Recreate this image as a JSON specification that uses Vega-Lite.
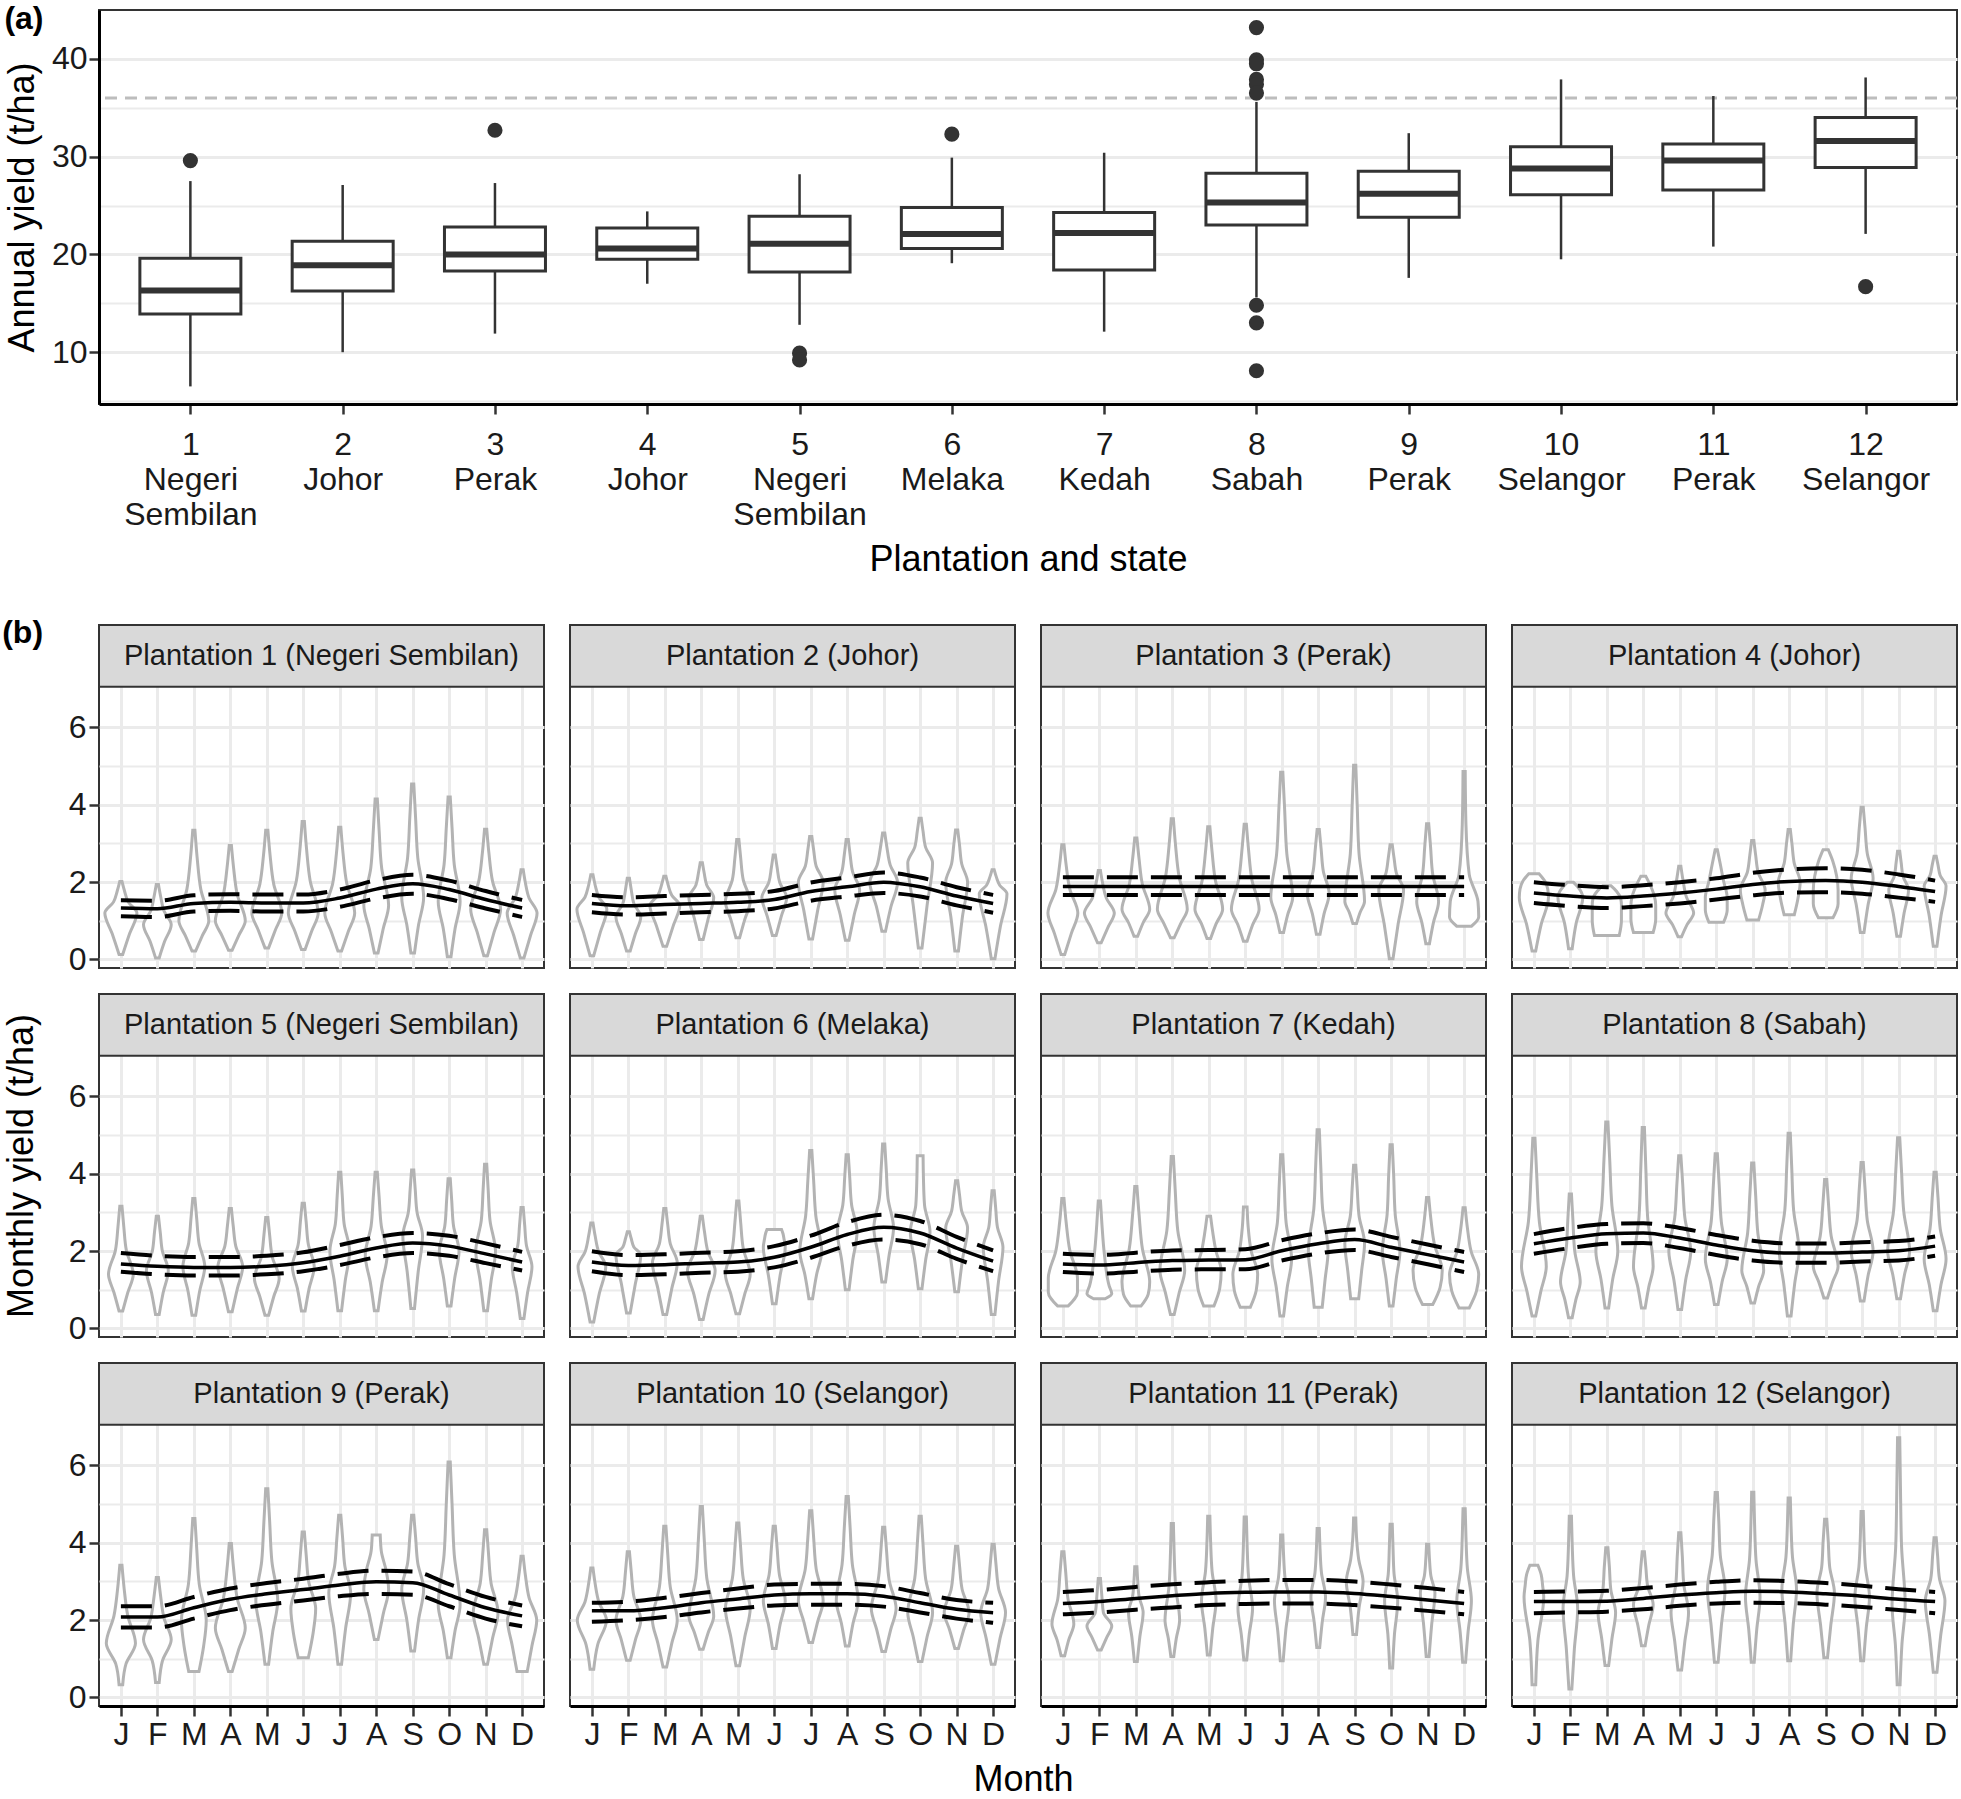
{
"$schema": "https://vega.github.io/schema/vega-lite/v6.json",
"padding": {"left": 2, "top": 2, "right": 2, "bottom": 0},
"config": {
 "font": "Liberation Sans",
 "view": {"stroke": "#333333", "strokeWidth": 2},
 "axis": {"labelFontSize": 32, "titleFontSize": 36, "titleFontWeight": "normal", "labelColor": "#1a1a1a", "titleColor": "#000000", "tickColor": "#333333", "tickWidth": 2.5, "tickSize": 10, "gridColor": "#ebebeb", "domainColor": "#000000", "domainWidth": 3, "labelPadding": 3, "titlePadding": 8},
 "title": {"fontSize": 32, "fontWeight": "bold", "color": "#000000"}
},
"datasets": {
 "box": [
  {"lab":"1|Negeri|Sembilan","lw":6.5,"q1":13.9,"med":16.3,"q3":19.6,"uw":27.5},
  {"lab":"2|Johor","lw":10.0,"q1":16.25,"med":18.9,"q3":21.35,"uw":27.1},
  {"lab":"3|Perak","lw":11.9,"q1":18.3,"med":20.0,"q3":22.8,"uw":27.3},
  {"lab":"4|Johor","lw":17.0,"q1":19.5,"med":20.6,"q3":22.7,"uw":24.4},
  {"lab":"5|Negeri|Sembilan","lw":12.8,"q1":18.2,"med":21.1,"q3":23.9,"uw":28.2},
  {"lab":"6|Melaka","lw":19.1,"q1":20.6,"med":22.1,"q3":24.8,"uw":29.9},
  {"lab":"7|Kedah","lw":12.1,"q1":18.4,"med":22.2,"q3":24.3,"uw":30.4},
  {"lab":"8|Sabah","lw":15.6,"q1":23.0,"med":25.3,"q3":28.3,"uw":35.6},
  {"lab":"9|Perak","lw":17.6,"q1":23.8,"med":26.2,"q3":28.5,"uw":32.4},
  {"lab":"10|Selangor","lw":19.5,"q1":26.1,"med":28.8,"q3":31.0,"uw":37.9},
  {"lab":"11|Perak","lw":20.8,"q1":26.6,"med":29.6,"q3":31.3,"uw":36.2},
  {"lab":"12|Selangor","lw":22.1,"q1":28.9,"med":31.6,"q3":34.0,"uw":38.1}
 ],
 "out": [
  {"lab":"1|Negeri|Sembilan","y":29.6},
  {"lab":"3|Perak","y":32.7},
  {"lab":"5|Negeri|Sembilan","y":9.9},
  {"lab":"5|Negeri|Sembilan","y":9.2},
  {"lab":"6|Melaka","y":32.3},
  {"lab":"8|Sabah","y":43.2},
  {"lab":"8|Sabah","y":39.9},
  {"lab":"8|Sabah","y":39.5},
  {"lab":"8|Sabah","y":37.9},
  {"lab":"8|Sabah","y":37.4},
  {"lab":"8|Sabah","y":36.5},
  {"lab":"8|Sabah","y":14.8},
  {"lab":"8|Sabah","y":13.0},
  {"lab":"8|Sabah","y":8.1},
  {"lab":"12|Selangor","y":16.7}
 ],
 "mon": [
  {"p":1,"m":1,"mn":1.33,"lo":1.12,"hi":1.53,"ys":[0.13,0.67,1.2,1.49,1.77,2.02],"ws":[0.05,0.24,0.44,0.2,0.1,0.03],"t":"Plantation 1 (Negeri Sembilan)"},
  {"p":1,"m":2,"mn":1.31,"lo":1.1,"hi":1.52,"ys":[0.04,0.47,0.9,1.26,1.63,1.94],"ws":[0.05,0.2,0.38,0.18,0.09,0.03]},
  {"p":1,"m":3,"mn":1.45,"lo":1.24,"hi":1.66,"ys":[0.22,0.61,1.0,1.82,2.64,3.34],"ws":[0.05,0.23,0.41,0.19,0.09,0.03]},
  {"p":1,"m":4,"mn":1.48,"lo":1.26,"hi":1.69,"ys":[0.24,0.62,1.0,1.68,2.37,2.95],"ws":[0.05,0.23,0.41,0.19,0.09,0.03]},
  {"p":1,"m":5,"mn":1.46,"lo":1.24,"hi":1.68,"ys":[0.3,0.75,1.2,1.95,2.7,3.34],"ws":[0.05,0.23,0.41,0.19,0.09,0.03]},
  {"p":1,"m":6,"mn":1.46,"lo":1.24,"hi":1.68,"ys":[0.26,0.73,1.2,2.03,2.86,3.57],"ws":[0.05,0.23,0.41,0.19,0.09,0.03]},
  {"p":1,"m":7,"mn":1.59,"lo":1.36,"hi":1.81,"ys":[0.22,0.71,1.2,1.98,2.75,3.42],"ws":[0.05,0.23,0.41,0.19,0.09,0.03]},
  {"p":1,"m":8,"mn":1.82,"lo":1.58,"hi":2.05,"ys":[0.17,0.79,1.4,2.36,3.33,4.15],"ws":[0.05,0.19,0.34,0.15,0.08,0.03]},
  {"p":1,"m":9,"mn":1.96,"lo":1.7,"hi":2.19,"ys":[0.17,0.89,1.6,2.63,3.66,4.54],"ws":[0.05,0.16,0.3,0.14,0.08,0.03]},
  {"p":1,"m":10,"mn":1.81,"lo":1.56,"hi":2.04,"ys":[0.07,0.79,1.5,2.45,3.39,4.2],"ws":[0.05,0.16,0.3,0.14,0.08,0.03]},
  {"p":1,"m":11,"mn":1.55,"lo":1.32,"hi":1.77,"ys":[0.1,0.7,1.3,2.02,2.75,3.37],"ws":[0.05,0.23,0.41,0.19,0.09,0.03]},
  {"p":1,"m":12,"mn":1.33,"lo":1.1,"hi":1.54,"ys":[0.04,0.62,1.2,1.59,1.98,2.32],"ws":[0.05,0.23,0.41,0.19,0.09,0.03]},

  {"p":2,"m":1,"mn":1.45,"lo":1.22,"hi":1.67,"ys":[0.1,0.7,1.3,1.61,1.92,2.19],"ws":[0.05,0.23,0.41,0.19,0.09,0.03],"t":"Plantation 2 (Johor)"},
  {"p":2,"m":2,"mn":1.39,"lo":1.16,"hi":1.61,"ys":[0.22,0.66,1.1,1.45,1.8,2.1],"ws":[0.05,0.19,0.34,0.15,0.08,0.03]},
  {"p":2,"m":3,"mn":1.42,"lo":1.19,"hi":1.64,"ys":[0.34,0.87,1.4,1.66,1.93,2.15],"ws":[0.05,0.23,0.41,0.19,0.09,0.03]},
  {"p":2,"m":4,"mn":1.45,"lo":1.22,"hi":1.67,"ys":[0.52,1.06,1.6,1.92,2.23,2.5],"ws":[0.05,0.19,0.34,0.15,0.08,0.03]},
  {"p":2,"m":5,"mn":1.48,"lo":1.25,"hi":1.7,"ys":[0.56,1.03,1.5,2.06,2.62,3.1],"ws":[0.05,0.19,0.34,0.15,0.08,0.03]},
  {"p":2,"m":6,"mn":1.55,"lo":1.32,"hi":1.77,"ys":[0.62,1.11,1.6,1.99,2.37,2.7],"ws":[0.05,0.19,0.34,0.15,0.08,0.03]},
  {"p":2,"m":7,"mn":1.76,"lo":1.52,"hi":1.99,"ys":[0.53,1.27,2.0,2.41,2.83,3.18],"ws":[0.05,0.19,0.34,0.15,0.08,0.03]},
  {"p":2,"m":8,"mn":1.88,"lo":1.63,"hi":2.12,"ys":[0.5,1.15,1.8,2.26,2.71,3.1],"ws":[0.05,0.19,0.34,0.15,0.08,0.03]},
  {"p":2,"m":9,"mn":2.0,"lo":1.72,"hi":2.25,"ys":[0.73,1.37,2.0,2.44,2.89,3.27],"ws":[0.05,0.2,0.38,0.18,0.09,0.03]},
  {"p":2,"m":10,"mn":1.88,"lo":1.63,"hi":2.12,"ys":[0.3,1.4,2.5,2.9,3.31,3.65],"ws":[0.05,0.19,0.34,0.15,0.08,0.03]},
  {"p":2,"m":11,"mn":1.64,"lo":1.4,"hi":1.87,"ys":[0.22,1.11,2.0,2.47,2.95,3.35],"ws":[0.05,0.16,0.3,0.14,0.08,0.03]},
  {"p":2,"m":12,"mn":1.45,"lo":1.21,"hi":1.67,"ys":[0.02,0.86,1.7,1.92,2.13,2.32],"ws":[0.05,0.2,0.38,0.18,0.09,0.03]},

  {"p":3,"m":1,"mn":1.89,"lo":1.67,"hi":2.13,"ys":[0.13,0.67,1.2,1.82,2.44,2.97],"ws":[0.05,0.23,0.41,0.19,0.09,0.03],"t":"Plantation 3 (Perak)"},
  {"p":3,"m":2,"mn":1.89,"lo":1.67,"hi":2.13,"ys":[0.43,0.82,1.2,1.59,1.97,2.3],"ws":[0.05,0.23,0.41,0.19,0.09,0.03]},
  {"p":3,"m":3,"mn":1.89,"lo":1.67,"hi":2.13,"ys":[0.6,0.95,1.3,1.94,2.59,3.14],"ws":[0.05,0.2,0.38,0.18,0.09,0.03]},
  {"p":3,"m":4,"mn":1.89,"lo":1.67,"hi":2.13,"ys":[0.56,0.93,1.3,2.12,2.94,3.64],"ws":[0.05,0.23,0.41,0.19,0.09,0.03]},
  {"p":3,"m":5,"mn":1.89,"lo":1.67,"hi":2.13,"ys":[0.54,0.92,1.3,2.05,2.79,3.43],"ws":[0.05,0.2,0.38,0.18,0.09,0.03]},
  {"p":3,"m":6,"mn":1.89,"lo":1.67,"hi":2.13,"ys":[0.47,0.89,1.3,2.07,2.84,3.5],"ws":[0.05,0.2,0.38,0.18,0.09,0.03]},
  {"p":3,"m":7,"mn":1.89,"lo":1.67,"hi":2.13,"ys":[0.7,1.15,1.6,2.73,3.87,4.84],"ws":[0.05,0.16,0.3,0.14,0.08,0.03]},
  {"p":3,"m":8,"mn":1.89,"lo":1.67,"hi":2.13,"ys":[0.65,1.18,1.7,2.28,2.86,3.36],"ws":[0.05,0.16,0.3,0.14,0.08,0.03]},
  {"p":3,"m":9,"mn":1.89,"lo":1.67,"hi":2.13,"ys":[0.93,1.22,1.5,2.73,3.96,5.02],"ws":[0.05,0.15,0.27,0.12,0.07,0.03]},
  {"p":3,"m":10,"mn":1.89,"lo":1.67,"hi":2.13,"ys":[0.02,0.91,1.8,2.21,2.62,2.97],"ws":[0.05,0.19,0.34,0.15,0.08,0.03]},
  {"p":3,"m":11,"mn":1.89,"lo":1.67,"hi":2.13,"ys":[0.41,0.96,1.5,2.2,2.91,3.51],"ws":[0.05,0.16,0.3,0.14,0.08,0.03]},
  {"p":3,"m":12,"mn":1.89,"lo":1.67,"hi":2.13,"ys":[0.86,1.1,1.5,2.2,3.5,4.86],"ws":[0.2,0.4,0.38,0.14,0.05,0.03]},

  {"p":4,"m":1,"mn":1.72,"lo":1.46,"hi":2.0,"ys":[0.22,0.91,1.6,1.82,2.03,2.22],"ws":[0.05,0.2,0.4,0.38,0.3,0.14],"t":"Plantation 4 (Johor)"},
  {"p":4,"m":2,"mn":1.64,"lo":1.38,"hi":1.92,"ys":[0.28,0.94,1.6,1.74,1.88,2.0],"ws":[0.05,0.16,0.34,0.3,0.2,0.08]},
  {"p":4,"m":3,"mn":1.59,"lo":1.33,"hi":1.87,"ys":[0.62,1.01,1.4,1.58,1.76,1.91],"ws":[0.34,0.4,0.4,0.38,0.27,0.11]},
  {"p":4,"m":4,"mn":1.64,"lo":1.38,"hi":1.92,"ys":[0.7,1.05,1.4,1.65,1.9,2.15],"ws":[0.27,0.34,0.34,0.3,0.2,0.07]},
  {"p":4,"m":5,"mn":1.72,"lo":1.45,"hi":2.0,"ys":[0.59,0.9,1.2,1.62,2.04,2.41],"ws":[0.05,0.2,0.38,0.18,0.09,0.03]},
  {"p":4,"m":6,"mn":1.82,"lo":1.55,"hi":2.1,"ys":[0.96,1.28,1.6,2.03,2.47,2.84],"ws":[0.2,0.3,0.3,0.2,0.11,0.03]},
  {"p":4,"m":7,"mn":1.94,"lo":1.66,"hi":2.24,"ys":[1.02,1.41,1.8,2.25,2.7,3.08],"ws":[0.16,0.27,0.34,0.15,0.08,0.03]},
  {"p":4,"m":8,"mn":2.02,"lo":1.73,"hi":2.33,"ys":[1.16,1.58,2.0,2.48,2.95,3.36],"ws":[0.14,0.24,0.3,0.14,0.08,0.03]},
  {"p":4,"m":9,"mn":2.04,"lo":1.74,"hi":2.36,"ys":[1.08,1.44,1.8,2.16,2.53,2.84],"ws":[0.2,0.34,0.34,0.3,0.2,0.07]},
  {"p":4,"m":10,"mn":2.0,"lo":1.7,"hi":2.32,"ys":[0.7,1.4,2.1,2.74,3.39,3.94],"ws":[0.05,0.16,0.3,0.14,0.08,0.03]},
  {"p":4,"m":11,"mn":1.89,"lo":1.6,"hi":2.2,"ys":[0.6,1.2,1.8,2.15,2.5,2.8],"ws":[0.05,0.15,0.27,0.12,0.07,0.03]},
  {"p":4,"m":12,"mn":1.76,"lo":1.49,"hi":2.04,"ys":[0.34,1.12,1.9,2.17,2.44,2.67],"ws":[0.05,0.16,0.3,0.14,0.08,0.03]},

  {"p":5,"m":1,"mn":1.67,"lo":1.47,"hi":1.95,"ys":[0.45,0.93,1.4,2.02,2.63,3.16],"ws":[0.05,0.19,0.34,0.15,0.08,0.03],"t":"Plantation 5 (Negeri Sembilan)"},
  {"p":5,"m":2,"mn":1.61,"lo":1.4,"hi":1.88,"ys":[0.36,0.93,1.5,1.99,2.48,2.9],"ws":[0.05,0.16,0.3,0.14,0.08,0.03]},
  {"p":5,"m":3,"mn":1.58,"lo":1.37,"hi":1.85,"ys":[0.34,0.97,1.6,2.22,2.83,3.36],"ws":[0.05,0.16,0.3,0.14,0.08,0.03]},
  {"p":5,"m":4,"mn":1.58,"lo":1.37,"hi":1.85,"ys":[0.43,1.02,1.6,2.13,2.65,3.1],"ws":[0.05,0.19,0.34,0.15,0.08,0.03]},
  {"p":5,"m":5,"mn":1.61,"lo":1.4,"hi":1.88,"ys":[0.34,0.82,1.3,1.85,2.4,2.87],"ws":[0.05,0.19,0.34,0.15,0.08,0.03]},
  {"p":5,"m":6,"mn":1.7,"lo":1.48,"hi":1.97,"ys":[0.45,1.03,1.6,2.17,2.75,3.24],"ws":[0.05,0.16,0.3,0.14,0.08,0.03]},
  {"p":5,"m":7,"mn":1.87,"lo":1.64,"hi":2.16,"ys":[0.46,1.23,2.0,2.71,3.43,4.04],"ws":[0.05,0.15,0.27,0.12,0.07,0.03]},
  {"p":5,"m":8,"mn":2.08,"lo":1.84,"hi":2.36,"ys":[0.46,1.18,1.9,2.65,3.4,4.04],"ws":[0.05,0.16,0.3,0.14,0.08,0.03]},
  {"p":5,"m":9,"mn":2.21,"lo":1.95,"hi":2.47,"ys":[0.52,1.46,2.4,3.0,3.59,4.1],"ws":[0.05,0.15,0.27,0.12,0.07,0.03]},
  {"p":5,"m":10,"mn":2.13,"lo":1.88,"hi":2.4,"ys":[0.58,1.29,2.0,2.65,3.31,3.87],"ws":[0.05,0.15,0.27,0.12,0.07,0.03]},
  {"p":5,"m":11,"mn":1.93,"lo":1.69,"hi":2.2,"ys":[0.46,1.23,2.0,2.79,3.58,4.25],"ws":[0.05,0.15,0.27,0.12,0.07,0.03]},
  {"p":5,"m":12,"mn":1.72,"lo":1.5,"hi":1.98,"ys":[0.26,0.93,1.6,2.14,2.67,3.13],"ws":[0.05,0.15,0.27,0.12,0.07,0.03]},

  {"p":6,"m":1,"mn":1.72,"lo":1.48,"hi":2.0,"ys":[0.17,0.89,1.6,2.0,2.39,2.73],"ws":[0.05,0.2,0.38,0.18,0.09,0.03],"t":"Plantation 6 (Melaka)"},
  {"p":6,"m":2,"mn":1.63,"lo":1.38,"hi":1.9,"ys":[0.4,1.15,1.9,2.11,2.32,2.5],"ws":[0.05,0.19,0.34,0.15,0.08,0.03]},
  {"p":6,"m":3,"mn":1.65,"lo":1.4,"hi":1.92,"ys":[0.36,1.03,1.7,2.19,2.68,3.1],"ws":[0.05,0.19,0.34,0.15,0.08,0.03]},
  {"p":6,"m":4,"mn":1.69,"lo":1.44,"hi":1.96,"ys":[0.23,0.87,1.5,1.99,2.48,2.9],"ws":[0.05,0.2,0.38,0.18,0.09,0.03]},
  {"p":6,"m":5,"mn":1.72,"lo":1.47,"hi":2.0,"ys":[0.38,0.89,1.4,2.07,2.73,3.3],"ws":[0.05,0.19,0.34,0.15,0.08,0.03]},
  {"p":6,"m":6,"mn":1.84,"lo":1.58,"hi":2.13,"ys":[0.64,1.37,2.1,2.3,2.45,2.56],"ws":[0.05,0.16,0.3,0.27,0.24,0.2]},
  {"p":6,"m":7,"mn":2.1,"lo":1.83,"hi":2.4,"ys":[0.77,1.39,2.0,2.91,3.82,4.6],"ws":[0.05,0.16,0.3,0.14,0.08,0.03]},
  {"p":6,"m":8,"mn":2.43,"lo":2.14,"hi":2.75,"ys":[1.0,1.75,2.5,3.2,3.89,4.49],"ws":[0.05,0.15,0.27,0.12,0.07,0.03]},
  {"p":6,"m":9,"mn":2.62,"lo":2.3,"hi":2.94,"ys":[1.2,1.9,2.6,3.36,4.12,4.77],"ws":[0.05,0.15,0.27,0.12,0.07,0.03]},
  {"p":6,"m":10,"mn":2.47,"lo":2.18,"hi":2.78,"ys":[1.03,1.77,2.5,3.19,3.88,4.47],"ws":[0.05,0.15,0.27,0.12,0.09,0.08]},
  {"p":6,"m":11,"mn":2.08,"lo":1.8,"hi":2.37,"ys":[0.95,1.78,2.6,3.03,3.45,3.82],"ws":[0.05,0.16,0.3,0.14,0.08,0.03]},
  {"p":6,"m":12,"mn":1.74,"lo":1.48,"hi":2.02,"ys":[0.36,1.23,2.1,2.61,3.12,3.56],"ws":[0.05,0.15,0.27,0.12,0.07,0.03]},

  {"p":7,"m":1,"mn":1.67,"lo":1.46,"hi":1.93,"ys":[0.58,0.94,1.3,2.02,2.74,3.36],"ws":[0.14,0.4,0.4,0.19,0.09,0.03],"t":"Plantation 7 (Kedah)"},
  {"p":7,"m":2,"mn":1.64,"lo":1.42,"hi":1.9,"ys":[0.77,0.9,1.1,1.9,2.7,3.3],"ws":[0.16,0.34,0.27,0.14,0.07,0.03]},
  {"p":7,"m":3,"mn":1.7,"lo":1.47,"hi":1.96,"ys":[0.58,0.89,1.2,2.06,2.93,3.67],"ws":[0.14,0.34,0.38,0.18,0.09,0.03]},
  {"p":7,"m":4,"mn":1.76,"lo":1.52,"hi":2.02,"ys":[0.36,0.93,1.5,2.53,3.57,4.45],"ws":[0.05,0.19,0.34,0.15,0.08,0.03]},
  {"p":7,"m":5,"mn":1.77,"lo":1.53,"hi":2.03,"ys":[0.58,1.04,1.5,1.99,2.48,2.9],"ws":[0.14,0.3,0.34,0.2,0.11,0.05]},
  {"p":7,"m":6,"mn":1.78,"lo":1.53,"hi":2.05,"ys":[0.55,0.98,1.4,2.01,2.62,3.14],"ws":[0.14,0.3,0.34,0.16,0.08,0.05]},
  {"p":7,"m":7,"mn":2.01,"lo":1.76,"hi":2.28,"ys":[0.32,1.06,1.8,2.74,3.68,4.49],"ws":[0.05,0.15,0.27,0.12,0.07,0.03]},
  {"p":7,"m":8,"mn":2.19,"lo":1.94,"hi":2.46,"ys":[0.55,1.28,2.0,3.1,4.2,5.14],"ws":[0.11,0.19,0.27,0.12,0.07,0.03]},
  {"p":7,"m":9,"mn":2.3,"lo":2.03,"hi":2.56,"ys":[0.77,1.49,2.2,2.91,3.61,4.22],"ws":[0.11,0.19,0.27,0.12,0.07,0.03]},
  {"p":7,"m":10,"mn":2.1,"lo":1.85,"hi":2.37,"ys":[0.58,1.29,2.0,2.96,3.93,4.75],"ws":[0.05,0.14,0.24,0.11,0.07,0.03]},
  {"p":7,"m":11,"mn":1.91,"lo":1.66,"hi":2.17,"ys":[0.62,1.06,1.5,2.16,2.82,3.39],"ws":[0.14,0.34,0.4,0.19,0.09,0.03]},
  {"p":7,"m":12,"mn":1.72,"lo":1.46,"hi":1.98,"ys":[0.53,0.97,1.4,2.0,2.6,3.12],"ws":[0.14,0.34,0.4,0.19,0.09,0.03]},

  {"p":8,"m":1,"mn":2.19,"lo":1.93,"hi":2.44,"ys":[0.32,0.96,1.6,2.76,3.92,4.92],"ws":[0.05,0.19,0.34,0.15,0.08,0.03],"t":"Plantation 8 (Sabah)"},
  {"p":8,"m":2,"mn":2.34,"lo":2.08,"hi":2.6,"ys":[0.28,0.74,1.2,2.0,2.8,3.48],"ws":[0.05,0.15,0.27,0.12,0.07,0.03]},
  {"p":8,"m":3,"mn":2.45,"lo":2.19,"hi":2.7,"ys":[0.53,1.27,2.0,3.17,4.34,5.34],"ws":[0.05,0.16,0.3,0.14,0.08,0.03]},
  {"p":8,"m":4,"mn":2.47,"lo":2.21,"hi":2.72,"ys":[0.53,1.07,1.6,2.86,4.12,5.2],"ws":[0.05,0.15,0.27,0.12,0.07,0.03]},
  {"p":8,"m":5,"mn":2.34,"lo":2.08,"hi":2.6,"ys":[0.49,1.25,2.0,2.86,3.73,4.47],"ws":[0.05,0.16,0.3,0.14,0.08,0.03]},
  {"p":8,"m":6,"mn":2.16,"lo":1.9,"hi":2.42,"ys":[0.62,1.21,1.8,2.75,3.7,4.52],"ws":[0.05,0.16,0.3,0.14,0.08,0.03]},
  {"p":8,"m":7,"mn":2.01,"lo":1.76,"hi":2.27,"ys":[0.66,1.08,1.5,2.47,3.45,4.28],"ws":[0.05,0.16,0.3,0.14,0.08,0.03]},
  {"p":8,"m":8,"mn":1.95,"lo":1.7,"hi":2.2,"ys":[0.32,1.16,2.0,3.07,4.14,5.05],"ws":[0.05,0.15,0.27,0.12,0.07,0.03]},
  {"p":8,"m":9,"mn":1.95,"lo":1.7,"hi":2.2,"ys":[0.79,1.2,1.6,2.39,3.18,3.85],"ws":[0.05,0.19,0.34,0.15,0.08,0.03]},
  {"p":8,"m":10,"mn":1.98,"lo":1.73,"hi":2.23,"ys":[0.71,1.36,2.0,2.8,3.6,4.29],"ws":[0.05,0.16,0.3,0.14,0.08,0.03]},
  {"p":8,"m":11,"mn":2.01,"lo":1.76,"hi":2.26,"ys":[0.77,1.39,2.0,3.03,4.05,4.93],"ws":[0.05,0.16,0.3,0.14,0.08,0.03]},
  {"p":8,"m":12,"mn":2.13,"lo":1.88,"hi":2.38,"ys":[0.46,1.13,1.8,2.58,3.37,4.04],"ws":[0.05,0.16,0.3,0.14,0.08,0.03]},

  {"p":9,"m":1,"mn":2.08,"lo":1.81,"hi":2.36,"ys":[0.33,0.87,1.4,2.11,2.81,3.42],"ws":[0.05,0.14,0.4,0.19,0.09,0.03],"t":"Plantation 9 (Perak)"},
  {"p":9,"m":2,"mn":2.08,"lo":1.81,"hi":2.36,"ys":[0.39,0.95,1.5,2.06,2.62,3.1],"ws":[0.05,0.14,0.38,0.18,0.09,0.03]},
  {"p":9,"m":3,"mn":2.32,"lo":2.04,"hi":2.6,"ys":[0.67,1.34,2.0,2.92,3.84,4.63],"ws":[0.14,0.27,0.34,0.15,0.08,0.03]},
  {"p":9,"m":4,"mn":2.54,"lo":2.26,"hi":2.82,"ys":[0.67,1.24,1.8,2.56,3.33,3.98],"ws":[0.05,0.23,0.41,0.19,0.09,0.03]},
  {"p":9,"m":5,"mn":2.68,"lo":2.4,"hi":2.96,"ys":[0.86,1.68,2.5,3.52,4.53,5.4],"ws":[0.05,0.16,0.3,0.14,0.08,0.03]},
  {"p":9,"m":6,"mn":2.79,"lo":2.51,"hi":3.07,"ys":[1.03,1.67,2.3,2.99,3.69,4.28],"ws":[0.14,0.27,0.34,0.15,0.08,0.03]},
  {"p":9,"m":7,"mn":2.91,"lo":2.62,"hi":3.2,"ys":[0.86,1.78,2.7,3.4,4.11,4.71],"ws":[0.05,0.16,0.3,0.14,0.08,0.03]},
  {"p":9,"m":8,"mn":2.99,"lo":2.68,"hi":3.28,"ys":[1.5,2.15,2.8,3.29,3.78,4.2],"ws":[0.05,0.19,0.34,0.27,0.14,0.11]},
  {"p":9,"m":9,"mn":2.97,"lo":2.66,"hi":3.26,"ys":[1.2,2.0,2.8,3.47,4.14,4.71],"ws":[0.05,0.16,0.3,0.14,0.08,0.03]},
  {"p":9,"m":10,"mn":2.65,"lo":2.36,"hi":2.93,"ys":[1.03,1.72,2.4,3.69,4.98,6.09],"ws":[0.05,0.16,0.3,0.14,0.08,0.03]},
  {"p":9,"m":11,"mn":2.32,"lo":2.04,"hi":2.6,"ys":[0.86,1.53,2.2,2.95,3.7,4.34],"ws":[0.05,0.19,0.34,0.15,0.08,0.03]},
  {"p":9,"m":12,"mn":2.11,"lo":1.84,"hi":2.38,"ys":[0.67,1.34,2.0,2.58,3.16,3.65],"ws":[0.14,0.27,0.4,0.19,0.09,0.03]},

  {"p":10,"m":1,"mn":2.24,"lo":1.96,"hi":2.45,"ys":[0.73,1.37,2.0,2.47,2.94,3.35],"ws":[0.05,0.16,0.4,0.19,0.09,0.03],"t":"Plantation 10 (Selangor)"},
  {"p":10,"m":2,"mn":2.24,"lo":2.0,"hi":2.48,"ys":[0.96,1.48,2.0,2.62,3.24,3.77],"ws":[0.05,0.19,0.34,0.15,0.08,0.03]},
  {"p":10,"m":3,"mn":2.32,"lo":2.08,"hi":2.58,"ys":[0.79,1.4,2.0,2.85,3.7,4.43],"ws":[0.05,0.19,0.34,0.15,0.08,0.03]},
  {"p":10,"m":4,"mn":2.45,"lo":2.2,"hi":2.7,"ys":[1.25,1.68,2.1,3.09,4.09,4.94],"ws":[0.05,0.19,0.34,0.15,0.08,0.03]},
  {"p":10,"m":5,"mn":2.55,"lo":2.3,"hi":2.82,"ys":[0.82,1.56,2.3,3.07,3.85,4.51],"ws":[0.05,0.19,0.34,0.15,0.08,0.03]},
  {"p":10,"m":6,"mn":2.65,"lo":2.38,"hi":2.92,"ys":[1.27,1.89,2.5,3.18,3.85,4.43],"ws":[0.05,0.16,0.3,0.14,0.08,0.03]},
  {"p":10,"m":7,"mn":2.68,"lo":2.4,"hi":2.94,"ys":[1.42,1.96,2.5,3.32,4.13,4.83],"ws":[0.05,0.19,0.34,0.15,0.08,0.03]},
  {"p":10,"m":8,"mn":2.68,"lo":2.4,"hi":2.94,"ys":[1.33,1.92,2.5,3.45,4.39,5.2],"ws":[0.05,0.16,0.3,0.14,0.08,0.03]},
  {"p":10,"m":9,"mn":2.62,"lo":2.35,"hi":2.88,"ys":[1.19,1.75,2.3,3.04,3.77,4.4],"ws":[0.05,0.19,0.34,0.15,0.08,0.03]},
  {"p":10,"m":10,"mn":2.45,"lo":2.2,"hi":2.7,"ys":[0.93,1.57,2.2,3.07,3.94,4.69],"ws":[0.05,0.19,0.34,0.15,0.08,0.03]},
  {"p":10,"m":11,"mn":2.28,"lo":2.04,"hi":2.52,"ys":[1.27,1.74,2.2,2.8,3.4,3.91],"ws":[0.05,0.19,0.34,0.15,0.08,0.03]},
  {"p":10,"m":12,"mn":2.19,"lo":1.93,"hi":2.45,"ys":[0.86,1.53,2.2,2.82,3.43,3.96],"ws":[0.05,0.19,0.34,0.15,0.08,0.03]},

  {"p":11,"m":1,"mn":2.43,"lo":2.15,"hi":2.73,"ys":[1.08,1.49,1.9,2.55,3.21,3.77],"ws":[0.05,0.16,0.3,0.14,0.08,0.03],"t":"Plantation 11 (Perak)"},
  {"p":11,"m":2,"mn":2.48,"lo":2.2,"hi":2.78,"ys":[1.23,1.55,1.85,2.2,2.6,3.08],"ws":[0.05,0.2,0.34,0.11,0.07,0.03]},
  {"p":11,"m":3,"mn":2.56,"lo":2.27,"hi":2.86,"ys":[0.93,1.57,2.2,2.61,3.03,3.38],"ws":[0.04,0.11,0.2,0.09,0.05,0.03]},
  {"p":11,"m":4,"mn":2.63,"lo":2.33,"hi":2.93,"ys":[1.06,1.53,2.0,2.88,3.75,4.5],"ws":[0.04,0.11,0.2,0.09,0.05,0.03]},
  {"p":11,"m":5,"mn":2.69,"lo":2.39,"hi":2.98,"ys":[1.1,1.8,2.5,3.27,4.03,4.69],"ws":[0.04,0.11,0.2,0.09,0.05,0.03]},
  {"p":11,"m":6,"mn":2.72,"lo":2.42,"hi":3.02,"ys":[0.97,1.64,2.3,3.13,3.96,4.67],"ws":[0.04,0.11,0.2,0.09,0.05,0.03]},
  {"p":11,"m":7,"mn":2.73,"lo":2.43,"hi":3.04,"ys":[0.95,1.73,2.5,3.1,3.69,4.2],"ws":[0.04,0.11,0.2,0.09,0.05,0.03]},
  {"p":11,"m":8,"mn":2.73,"lo":2.43,"hi":3.04,"ys":[1.29,1.95,2.6,3.22,3.84,4.37],"ws":[0.04,0.11,0.2,0.09,0.05,0.03]},
  {"p":11,"m":9,"mn":2.69,"lo":2.39,"hi":3.0,"ys":[1.63,2.32,3.0,3.57,4.15,4.64],"ws":[0.05,0.12,0.23,0.11,0.05,0.03]},
  {"p":11,"m":10,"mn":2.61,"lo":2.32,"hi":2.92,"ys":[0.76,1.63,2.5,3.19,3.89,4.48],"ws":[0.04,0.09,0.18,0.08,0.05,0.03]},
  {"p":11,"m":11,"mn":2.52,"lo":2.24,"hi":2.83,"ys":[1.06,1.88,2.7,3.14,3.58,3.96],"ws":[0.04,0.11,0.2,0.09,0.05,0.03]},
  {"p":11,"m":12,"mn":2.43,"lo":2.15,"hi":2.73,"ys":[0.91,1.71,2.5,3.33,4.17,4.88],"ws":[0.04,0.11,0.2,0.09,0.05,0.03]},

  {"p":12,"m":1,"mn":2.48,"lo":2.18,"hi":2.73,"ys":[0.33,1.47,2.6,2.89,3.18,3.42],"ws":[0.05,0.11,0.27,0.24,0.2,0.11],"t":"Plantation 12 (Selangor)"},
  {"p":12,"m":2,"mn":2.48,"lo":2.2,"hi":2.74,"ys":[0.22,1.26,2.3,3.14,3.97,4.69],"ws":[0.04,0.11,0.2,0.09,0.05,0.03]},
  {"p":12,"m":3,"mn":2.49,"lo":2.22,"hi":2.76,"ys":[0.83,1.52,2.2,2.78,3.37,3.87],"ws":[0.05,0.14,0.24,0.11,0.07,0.03]},
  {"p":12,"m":4,"mn":2.56,"lo":2.28,"hi":2.83,"ys":[1.34,1.87,2.4,2.88,3.36,3.77],"ws":[0.05,0.15,0.27,0.12,0.07,0.03]},
  {"p":12,"m":5,"mn":2.65,"lo":2.37,"hi":2.92,"ys":[0.71,1.46,2.2,2.92,3.64,4.26],"ws":[0.05,0.14,0.24,0.11,0.07,0.03]},
  {"p":12,"m":6,"mn":2.71,"lo":2.43,"hi":2.99,"ys":[0.91,1.86,2.8,3.68,4.55,5.3],"ws":[0.05,0.14,0.24,0.11,0.07,0.03]},
  {"p":12,"m":7,"mn":2.75,"lo":2.45,"hi":3.03,"ys":[0.91,1.76,2.6,3.55,4.5,5.31],"ws":[0.04,0.11,0.2,0.09,0.05,0.03]},
  {"p":12,"m":8,"mn":2.73,"lo":2.44,"hi":3.01,"ys":[0.95,1.88,2.8,3.63,4.45,5.16],"ws":[0.04,0.11,0.2,0.09,0.05,0.03]},
  {"p":12,"m":9,"mn":2.68,"lo":2.4,"hi":2.96,"ys":[1.03,1.87,2.7,3.37,4.04,4.61],"ws":[0.05,0.14,0.24,0.11,0.07,0.03]},
  {"p":12,"m":10,"mn":2.62,"lo":2.34,"hi":2.89,"ys":[0.95,1.78,2.6,3.37,4.15,4.81],"ws":[0.04,0.11,0.2,0.09,0.05,0.03]},
  {"p":12,"m":11,"mn":2.54,"lo":2.26,"hi":2.8,"ys":[0.33,1.37,2.4,3.91,5.42,6.72],"ws":[0.04,0.09,0.18,0.08,0.05,0.03]},
  {"p":12,"m":12,"mn":2.48,"lo":2.18,"hi":2.73,"ys":[0.65,1.58,2.5,3.07,3.64,4.13],"ws":[0.05,0.15,0.27,0.12,0.07,0.03]}
 ]
},
"spacing": 39,
"vconcat": [
 {
  "title": {"text": "(a)", "anchor": "start", "frame": "bounds", "baseline": "top", "offset": 10, "dy": 36},
  "width": 1858, "height": 394,
  "layer": [
   {"data": {"values": [{"ref": 36}]}, "mark": {"type": "rule", "color": "#bdbdbd", "strokeWidth": 3, "strokeDash": [12, 8]}, "encoding": {"y": {"field": "ref", "type": "quantitative"}}},
   {"data": {"name": "box"}, "mark": {"type": "rule", "color": "#333333", "strokeWidth": 2.5},
    "encoding": {
     "x": {"field": "lab", "type": "nominal", "scale": {"type": "point", "padding": 0.6, "domain": ["1|Negeri|Sembilan","2|Johor","3|Perak","4|Johor","5|Negeri|Sembilan","6|Melaka","7|Kedah","8|Sabah","9|Perak","10|Selangor","11|Perak","12|Selangor"]},
      "axis": {"labelExpr": "split(datum.value, '|')", "labelAngle": 0, "labelLineHeight": 35, "labelBaseline": "top", "labelPadding": 15, "titlePadding": 12, "title": "Plantation and state", "grid": false}},
     "y": {"field": "lw", "type": "quantitative", "scale": {"domain": [4.7, 45], "nice": false, "zero": false},
      "axis": {"values": [5,10,15,20,25,30,35,40], "labelExpr": "datum.value % 10 == 0 ? datum.label : ''", "tickOpacity": {"condition": {"test": "datum.value % 10 != 0", "value": 0}, "value": 1}, "gridWidth": {"condition": {"test": "datum.value % 10 != 0", "value": 2.2}, "value": 3}, "grid": true, "title": "Annual yield (t/ha)", "titlePadding": 10, "labelPadding": 2}},
     "y2": {"field": "uw"}}},
   {"data": {"name": "box"}, "mark": {"type": "bar", "width": 101, "fill": "#ffffff", "stroke": "#333333", "strokeWidth": 3}, "encoding": {"x": {"field": "lab", "type": "nominal"}, "y": {"field": "q1", "type": "quantitative"}, "y2": {"field": "q3"}}},
   {"data": {"name": "box"}, "mark": {"type": "tick", "color": "#333333", "thickness": 6, "size": 101, "opacity": 1}, "encoding": {"x": {"field": "lab", "type": "nominal"}, "y": {"field": "med", "type": "quantitative"}}},
   {"data": {"name": "out"}, "mark": {"type": "circle", "size": 230, "color": "#333333", "opacity": 1}, "encoding": {"x": {"field": "lab", "type": "nominal"}, "y": {"field": "y", "type": "quantitative"}}}
  ]
 },
 {
  "title": {"text": "(b)", "anchor": "start", "frame": "bounds", "baseline": "top", "offset": 13, "dy": 40},
  "columns": 4, "spacing": 26, "bounds": "flush",
  "concat": [
   {"width":445,"height":343,"data":{"name":"mon"},"transform":[{"filter":"datum.p == 1"}],"layer":[
    {"transform":[{"flatten":["ys","ws"],"as":["y","w"]},{"calculate":"datum.m - datum.w","as":"xl"},{"calculate":"datum.m + datum.w","as":"xr"}],"mark":{"type":"area","orient":"horizontal","interpolate":"monotone","fill":"#ffffff","stroke":"#b3b3b3","strokeWidth":3},"encoding":{"x":{"field":"xl","type":"quantitative","stack":null,"scale":{"domain":[0.4,12.6],"nice":false,"zero":false},"axis":{"values":[1,2,3,4,5,6,7,8,9,10,11,12],"labels":false,"ticks":false,"domain":false,"gridWidth":3,"title":null}},"x2":{"field":"xr"},"y":{"field":"y","type":"quantitative","scale":{"domain":[-0.22,8.65],"nice":false,"zero":false},"axis":{"values":[0,1,2,3,4,5,6],"labelExpr":"datum.value % 2 == 0 ? datum.label : ''","tickOpacity":{"condition":{"test":"datum.value % 2 == 1","value":0},"value":1},"gridWidth":{"condition":{"test":"datum.value % 2 == 1","value":2.2},"value":3},"domain":false,"title":null}},"detail":{"field":"m","type":"nominal"}}},
    {"mark":{"type":"line","interpolate":"monotone","color":"#000000","strokeWidth":3.5},"encoding":{"x":{"field":"m","type":"quantitative"},"y":{"field":"mn","type":"quantitative"}}},
    {"transform":[{"fold":["lo","hi"],"as":["k","v"]}],"mark":{"type":"line","interpolate":"monotone","color":"#000000","strokeWidth":4,"strokeDash":[31,13]},"encoding":{"x":{"field":"m","type":"quantitative"},"y":{"field":"v","type":"quantitative"},"detail":{"field":"k","type":"nominal"}}},
    {"transform":[{"filter":"datum.m == 1"}],"mark":{"type":"rect","fill":"#d9d9d9","stroke":"#333333","strokeWidth":2},"encoding":{"x":{"datum":0.4,"type":"quantitative"},"x2":{"datum":12.6},"y":{"datum":7.05,"type":"quantitative"},"y2":{"datum":8.65}}},
    {"transform":[{"filter":"datum.m == 1"}],"mark":{"type":"text","fontSize":29,"color":"#1a1a1a"},"encoding":{"text":{"field":"t","type":"nominal"},"x":{"datum":6.5,"type":"quantitative"},"y":{"datum":7.85,"type":"quantitative"}}}
   ]},
   {"width":445,"height":343,"data":{"name":"mon"},"transform":[{"filter":"datum.p == 2"}],"layer":[
    {"transform":[{"flatten":["ys","ws"],"as":["y","w"]},{"calculate":"datum.m - datum.w","as":"xl"},{"calculate":"datum.m + datum.w","as":"xr"}],"mark":{"type":"area","orient":"horizontal","interpolate":"monotone","fill":"#ffffff","stroke":"#b3b3b3","strokeWidth":3},"encoding":{"x":{"field":"xl","type":"quantitative","stack":null,"scale":{"domain":[0.4,12.6],"nice":false,"zero":false},"axis":{"values":[1,2,3,4,5,6,7,8,9,10,11,12],"labels":false,"ticks":false,"domain":false,"gridWidth":3,"title":null}},"x2":{"field":"xr"},"y":{"field":"y","type":"quantitative","scale":{"domain":[-0.22,8.65],"nice":false,"zero":false},"axis":{"values":[0,1,2,3,4,5,6],"labels":false,"ticks":false,"gridWidth":{"condition":{"test":"datum.value % 2 == 1","value":2.2},"value":3},"domain":false,"title":null}},"detail":{"field":"m","type":"nominal"}}},
    {"mark":{"type":"line","interpolate":"monotone","color":"#000000","strokeWidth":3.5},"encoding":{"x":{"field":"m","type":"quantitative"},"y":{"field":"mn","type":"quantitative"}}},
    {"transform":[{"fold":["lo","hi"],"as":["k","v"]}],"mark":{"type":"line","interpolate":"monotone","color":"#000000","strokeWidth":4,"strokeDash":[31,13]},"encoding":{"x":{"field":"m","type":"quantitative"},"y":{"field":"v","type":"quantitative"},"detail":{"field":"k","type":"nominal"}}},
    {"transform":[{"filter":"datum.m == 1"}],"mark":{"type":"rect","fill":"#d9d9d9","stroke":"#333333","strokeWidth":2},"encoding":{"x":{"datum":0.4,"type":"quantitative"},"x2":{"datum":12.6},"y":{"datum":7.05,"type":"quantitative"},"y2":{"datum":8.65}}},
    {"transform":[{"filter":"datum.m == 1"}],"mark":{"type":"text","fontSize":29,"color":"#1a1a1a"},"encoding":{"text":{"field":"t","type":"nominal"},"x":{"datum":6.5,"type":"quantitative"},"y":{"datum":7.85,"type":"quantitative"}}}
   ]},
   {"width":445,"height":343,"data":{"name":"mon"},"transform":[{"filter":"datum.p == 3"}],"layer":[
    {"transform":[{"flatten":["ys","ws"],"as":["y","w"]},{"calculate":"datum.m - datum.w","as":"xl"},{"calculate":"datum.m + datum.w","as":"xr"}],"mark":{"type":"area","orient":"horizontal","interpolate":"monotone","fill":"#ffffff","stroke":"#b3b3b3","strokeWidth":3},"encoding":{"x":{"field":"xl","type":"quantitative","stack":null,"scale":{"domain":[0.4,12.6],"nice":false,"zero":false},"axis":{"values":[1,2,3,4,5,6,7,8,9,10,11,12],"labels":false,"ticks":false,"domain":false,"gridWidth":3,"title":null}},"x2":{"field":"xr"},"y":{"field":"y","type":"quantitative","scale":{"domain":[-0.22,8.65],"nice":false,"zero":false},"axis":{"values":[0,1,2,3,4,5,6],"labels":false,"ticks":false,"gridWidth":{"condition":{"test":"datum.value % 2 == 1","value":2.2},"value":3},"domain":false,"title":null}},"detail":{"field":"m","type":"nominal"}}},
    {"mark":{"type":"line","interpolate":"monotone","color":"#000000","strokeWidth":3.5},"encoding":{"x":{"field":"m","type":"quantitative"},"y":{"field":"mn","type":"quantitative"}}},
    {"transform":[{"fold":["lo","hi"],"as":["k","v"]}],"mark":{"type":"line","interpolate":"monotone","color":"#000000","strokeWidth":4,"strokeDash":[31,13]},"encoding":{"x":{"field":"m","type":"quantitative"},"y":{"field":"v","type":"quantitative"},"detail":{"field":"k","type":"nominal"}}},
    {"transform":[{"filter":"datum.m == 1"}],"mark":{"type":"rect","fill":"#d9d9d9","stroke":"#333333","strokeWidth":2},"encoding":{"x":{"datum":0.4,"type":"quantitative"},"x2":{"datum":12.6},"y":{"datum":7.05,"type":"quantitative"},"y2":{"datum":8.65}}},
    {"transform":[{"filter":"datum.m == 1"}],"mark":{"type":"text","fontSize":29,"color":"#1a1a1a"},"encoding":{"text":{"field":"t","type":"nominal"},"x":{"datum":6.5,"type":"quantitative"},"y":{"datum":7.85,"type":"quantitative"}}}
   ]},
   {"width":445,"height":343,"data":{"name":"mon"},"transform":[{"filter":"datum.p == 4"}],"layer":[
    {"transform":[{"flatten":["ys","ws"],"as":["y","w"]},{"calculate":"datum.m - datum.w","as":"xl"},{"calculate":"datum.m + datum.w","as":"xr"}],"mark":{"type":"area","orient":"horizontal","interpolate":"monotone","fill":"#ffffff","stroke":"#b3b3b3","strokeWidth":3},"encoding":{"x":{"field":"xl","type":"quantitative","stack":null,"scale":{"domain":[0.4,12.6],"nice":false,"zero":false},"axis":{"values":[1,2,3,4,5,6,7,8,9,10,11,12],"labels":false,"ticks":false,"domain":false,"gridWidth":3,"title":null}},"x2":{"field":"xr"},"y":{"field":"y","type":"quantitative","scale":{"domain":[-0.22,8.65],"nice":false,"zero":false},"axis":{"values":[0,1,2,3,4,5,6],"labels":false,"ticks":false,"gridWidth":{"condition":{"test":"datum.value % 2 == 1","value":2.2},"value":3},"domain":false,"title":null}},"detail":{"field":"m","type":"nominal"}}},
    {"mark":{"type":"line","interpolate":"monotone","color":"#000000","strokeWidth":3.5},"encoding":{"x":{"field":"m","type":"quantitative"},"y":{"field":"mn","type":"quantitative"}}},
    {"transform":[{"fold":["lo","hi"],"as":["k","v"]}],"mark":{"type":"line","interpolate":"monotone","color":"#000000","strokeWidth":4,"strokeDash":[31,13]},"encoding":{"x":{"field":"m","type":"quantitative"},"y":{"field":"v","type":"quantitative"},"detail":{"field":"k","type":"nominal"}}},
    {"transform":[{"filter":"datum.m == 1"}],"mark":{"type":"rect","fill":"#d9d9d9","stroke":"#333333","strokeWidth":2},"encoding":{"x":{"datum":0.4,"type":"quantitative"},"x2":{"datum":12.6},"y":{"datum":7.05,"type":"quantitative"},"y2":{"datum":8.65}}},
    {"transform":[{"filter":"datum.m == 1"}],"mark":{"type":"text","fontSize":29,"color":"#1a1a1a"},"encoding":{"text":{"field":"t","type":"nominal"},"x":{"datum":6.5,"type":"quantitative"},"y":{"datum":7.85,"type":"quantitative"}}}
   ]},
   {"width":445,"height":343,"data":{"name":"mon"},"transform":[{"filter":"datum.p == 5"}],"layer":[
    {"transform":[{"flatten":["ys","ws"],"as":["y","w"]},{"calculate":"datum.m - datum.w","as":"xl"},{"calculate":"datum.m + datum.w","as":"xr"}],"mark":{"type":"area","orient":"horizontal","interpolate":"monotone","fill":"#ffffff","stroke":"#b3b3b3","strokeWidth":3},"encoding":{"x":{"field":"xl","type":"quantitative","stack":null,"scale":{"domain":[0.4,12.6],"nice":false,"zero":false},"axis":{"values":[1,2,3,4,5,6,7,8,9,10,11,12],"labels":false,"ticks":false,"domain":false,"gridWidth":3,"title":null}},"x2":{"field":"xr"},"y":{"field":"y","type":"quantitative","scale":{"domain":[-0.22,8.65],"nice":false,"zero":false},"axis":{"values":[0,1,2,3,4,5,6],"labelExpr":"datum.value % 2 == 0 ? datum.label : ''","tickOpacity":{"condition":{"test":"datum.value % 2 == 1","value":0},"value":1},"gridWidth":{"condition":{"test":"datum.value % 2 == 1","value":2.2},"value":3},"domain":false,"title":"Monthly yield (t/ha)","titlePadding":28}},"detail":{"field":"m","type":"nominal"}}},
    {"mark":{"type":"line","interpolate":"monotone","color":"#000000","strokeWidth":3.5},"encoding":{"x":{"field":"m","type":"quantitative"},"y":{"field":"mn","type":"quantitative"}}},
    {"transform":[{"fold":["lo","hi"],"as":["k","v"]}],"mark":{"type":"line","interpolate":"monotone","color":"#000000","strokeWidth":4,"strokeDash":[31,13]},"encoding":{"x":{"field":"m","type":"quantitative"},"y":{"field":"v","type":"quantitative"},"detail":{"field":"k","type":"nominal"}}},
    {"transform":[{"filter":"datum.m == 1"}],"mark":{"type":"rect","fill":"#d9d9d9","stroke":"#333333","strokeWidth":2},"encoding":{"x":{"datum":0.4,"type":"quantitative"},"x2":{"datum":12.6},"y":{"datum":7.05,"type":"quantitative"},"y2":{"datum":8.65}}},
    {"transform":[{"filter":"datum.m == 1"}],"mark":{"type":"text","fontSize":29,"color":"#1a1a1a"},"encoding":{"text":{"field":"t","type":"nominal"},"x":{"datum":6.5,"type":"quantitative"},"y":{"datum":7.85,"type":"quantitative"}}}
   ]},
   {"width":445,"height":343,"data":{"name":"mon"},"transform":[{"filter":"datum.p == 6"}],"layer":[
    {"transform":[{"flatten":["ys","ws"],"as":["y","w"]},{"calculate":"datum.m - datum.w","as":"xl"},{"calculate":"datum.m + datum.w","as":"xr"}],"mark":{"type":"area","orient":"horizontal","interpolate":"monotone","fill":"#ffffff","stroke":"#b3b3b3","strokeWidth":3},"encoding":{"x":{"field":"xl","type":"quantitative","stack":null,"scale":{"domain":[0.4,12.6],"nice":false,"zero":false},"axis":{"values":[1,2,3,4,5,6,7,8,9,10,11,12],"labels":false,"ticks":false,"domain":false,"gridWidth":3,"title":null}},"x2":{"field":"xr"},"y":{"field":"y","type":"quantitative","scale":{"domain":[-0.22,8.65],"nice":false,"zero":false},"axis":{"values":[0,1,2,3,4,5,6],"labels":false,"ticks":false,"gridWidth":{"condition":{"test":"datum.value % 2 == 1","value":2.2},"value":3},"domain":false,"title":null}},"detail":{"field":"m","type":"nominal"}}},
    {"mark":{"type":"line","interpolate":"monotone","color":"#000000","strokeWidth":3.5},"encoding":{"x":{"field":"m","type":"quantitative"},"y":{"field":"mn","type":"quantitative"}}},
    {"transform":[{"fold":["lo","hi"],"as":["k","v"]}],"mark":{"type":"line","interpolate":"monotone","color":"#000000","strokeWidth":4,"strokeDash":[31,13]},"encoding":{"x":{"field":"m","type":"quantitative"},"y":{"field":"v","type":"quantitative"},"detail":{"field":"k","type":"nominal"}}},
    {"transform":[{"filter":"datum.m == 1"}],"mark":{"type":"rect","fill":"#d9d9d9","stroke":"#333333","strokeWidth":2},"encoding":{"x":{"datum":0.4,"type":"quantitative"},"x2":{"datum":12.6},"y":{"datum":7.05,"type":"quantitative"},"y2":{"datum":8.65}}},
    {"transform":[{"filter":"datum.m == 1"}],"mark":{"type":"text","fontSize":29,"color":"#1a1a1a"},"encoding":{"text":{"field":"t","type":"nominal"},"x":{"datum":6.5,"type":"quantitative"},"y":{"datum":7.85,"type":"quantitative"}}}
   ]},
   {"width":445,"height":343,"data":{"name":"mon"},"transform":[{"filter":"datum.p == 7"}],"layer":[
    {"transform":[{"flatten":["ys","ws"],"as":["y","w"]},{"calculate":"datum.m - datum.w","as":"xl"},{"calculate":"datum.m + datum.w","as":"xr"}],"mark":{"type":"area","orient":"horizontal","interpolate":"monotone","fill":"#ffffff","stroke":"#b3b3b3","strokeWidth":3},"encoding":{"x":{"field":"xl","type":"quantitative","stack":null,"scale":{"domain":[0.4,12.6],"nice":false,"zero":false},"axis":{"values":[1,2,3,4,5,6,7,8,9,10,11,12],"labels":false,"ticks":false,"domain":false,"gridWidth":3,"title":null}},"x2":{"field":"xr"},"y":{"field":"y","type":"quantitative","scale":{"domain":[-0.22,8.65],"nice":false,"zero":false},"axis":{"values":[0,1,2,3,4,5,6],"labels":false,"ticks":false,"gridWidth":{"condition":{"test":"datum.value % 2 == 1","value":2.2},"value":3},"domain":false,"title":null}},"detail":{"field":"m","type":"nominal"}}},
    {"mark":{"type":"line","interpolate":"monotone","color":"#000000","strokeWidth":3.5},"encoding":{"x":{"field":"m","type":"quantitative"},"y":{"field":"mn","type":"quantitative"}}},
    {"transform":[{"fold":["lo","hi"],"as":["k","v"]}],"mark":{"type":"line","interpolate":"monotone","color":"#000000","strokeWidth":4,"strokeDash":[31,13]},"encoding":{"x":{"field":"m","type":"quantitative"},"y":{"field":"v","type":"quantitative"},"detail":{"field":"k","type":"nominal"}}},
    {"transform":[{"filter":"datum.m == 1"}],"mark":{"type":"rect","fill":"#d9d9d9","stroke":"#333333","strokeWidth":2},"encoding":{"x":{"datum":0.4,"type":"quantitative"},"x2":{"datum":12.6},"y":{"datum":7.05,"type":"quantitative"},"y2":{"datum":8.65}}},
    {"transform":[{"filter":"datum.m == 1"}],"mark":{"type":"text","fontSize":29,"color":"#1a1a1a"},"encoding":{"text":{"field":"t","type":"nominal"},"x":{"datum":6.5,"type":"quantitative"},"y":{"datum":7.85,"type":"quantitative"}}}
   ]},
   {"width":445,"height":343,"data":{"name":"mon"},"transform":[{"filter":"datum.p == 8"}],"layer":[
    {"transform":[{"flatten":["ys","ws"],"as":["y","w"]},{"calculate":"datum.m - datum.w","as":"xl"},{"calculate":"datum.m + datum.w","as":"xr"}],"mark":{"type":"area","orient":"horizontal","interpolate":"monotone","fill":"#ffffff","stroke":"#b3b3b3","strokeWidth":3},"encoding":{"x":{"field":"xl","type":"quantitative","stack":null,"scale":{"domain":[0.4,12.6],"nice":false,"zero":false},"axis":{"values":[1,2,3,4,5,6,7,8,9,10,11,12],"labels":false,"ticks":false,"domain":false,"gridWidth":3,"title":null}},"x2":{"field":"xr"},"y":{"field":"y","type":"quantitative","scale":{"domain":[-0.22,8.65],"nice":false,"zero":false},"axis":{"values":[0,1,2,3,4,5,6],"labels":false,"ticks":false,"gridWidth":{"condition":{"test":"datum.value % 2 == 1","value":2.2},"value":3},"domain":false,"title":null}},"detail":{"field":"m","type":"nominal"}}},
    {"mark":{"type":"line","interpolate":"monotone","color":"#000000","strokeWidth":3.5},"encoding":{"x":{"field":"m","type":"quantitative"},"y":{"field":"mn","type":"quantitative"}}},
    {"transform":[{"fold":["lo","hi"],"as":["k","v"]}],"mark":{"type":"line","interpolate":"monotone","color":"#000000","strokeWidth":4,"strokeDash":[31,13]},"encoding":{"x":{"field":"m","type":"quantitative"},"y":{"field":"v","type":"quantitative"},"detail":{"field":"k","type":"nominal"}}},
    {"transform":[{"filter":"datum.m == 1"}],"mark":{"type":"rect","fill":"#d9d9d9","stroke":"#333333","strokeWidth":2},"encoding":{"x":{"datum":0.4,"type":"quantitative"},"x2":{"datum":12.6},"y":{"datum":7.05,"type":"quantitative"},"y2":{"datum":8.65}}},
    {"transform":[{"filter":"datum.m == 1"}],"mark":{"type":"text","fontSize":29,"color":"#1a1a1a"},"encoding":{"text":{"field":"t","type":"nominal"},"x":{"datum":6.5,"type":"quantitative"},"y":{"datum":7.85,"type":"quantitative"}}}
   ]},
   {"width":445,"height":343,"data":{"name":"mon"},"transform":[{"filter":"datum.p == 9"}],"layer":[
    {"transform":[{"flatten":["ys","ws"],"as":["y","w"]},{"calculate":"datum.m - datum.w","as":"xl"},{"calculate":"datum.m + datum.w","as":"xr"}],"mark":{"type":"area","orient":"horizontal","interpolate":"monotone","fill":"#ffffff","stroke":"#b3b3b3","strokeWidth":3},"encoding":{"x":{"field":"xl","type":"quantitative","stack":null,"scale":{"domain":[0.4,12.6],"nice":false,"zero":false},"axis":{"values":[1,2,3,4,5,6,7,8,9,10,11,12],"labelExpr":"['J','F','M','A','M','J','J','A','S','O','N','D'][datum.value - 1]","gridWidth":3,"title":null}},"x2":{"field":"xr"},"y":{"field":"y","type":"quantitative","scale":{"domain":[-0.22,8.65],"nice":false,"zero":false},"axis":{"values":[0,1,2,3,4,5,6],"labelExpr":"datum.value % 2 == 0 ? datum.label : ''","tickOpacity":{"condition":{"test":"datum.value % 2 == 1","value":0},"value":1},"gridWidth":{"condition":{"test":"datum.value % 2 == 1","value":2.2},"value":3},"domain":false,"title":null}},"detail":{"field":"m","type":"nominal"}}},
    {"mark":{"type":"line","interpolate":"monotone","color":"#000000","strokeWidth":3.5},"encoding":{"x":{"field":"m","type":"quantitative"},"y":{"field":"mn","type":"quantitative"}}},
    {"transform":[{"fold":["lo","hi"],"as":["k","v"]}],"mark":{"type":"line","interpolate":"monotone","color":"#000000","strokeWidth":4,"strokeDash":[31,13]},"encoding":{"x":{"field":"m","type":"quantitative"},"y":{"field":"v","type":"quantitative"},"detail":{"field":"k","type":"nominal"}}},
    {"transform":[{"filter":"datum.m == 1"}],"mark":{"type":"rect","fill":"#d9d9d9","stroke":"#333333","strokeWidth":2},"encoding":{"x":{"datum":0.4,"type":"quantitative"},"x2":{"datum":12.6},"y":{"datum":7.05,"type":"quantitative"},"y2":{"datum":8.65}}},
    {"transform":[{"filter":"datum.m == 1"}],"mark":{"type":"text","fontSize":29,"color":"#1a1a1a"},"encoding":{"text":{"field":"t","type":"nominal"},"x":{"datum":6.5,"type":"quantitative"},"y":{"datum":7.85,"type":"quantitative"}}}
   ]},
   {"width":445,"height":343,"data":{"name":"mon"},"transform":[{"filter":"datum.p == 10"}],"layer":[
    {"transform":[{"flatten":["ys","ws"],"as":["y","w"]},{"calculate":"datum.m - datum.w","as":"xl"},{"calculate":"datum.m + datum.w","as":"xr"}],"mark":{"type":"area","orient":"horizontal","interpolate":"monotone","fill":"#ffffff","stroke":"#b3b3b3","strokeWidth":3},"encoding":{"x":{"field":"xl","type":"quantitative","stack":null,"scale":{"domain":[0.4,12.6],"nice":false,"zero":false},"axis":{"values":[1,2,3,4,5,6,7,8,9,10,11,12],"labelExpr":"['J','F','M','A','M','J','J','A','S','O','N','D'][datum.value - 1]","gridWidth":3,"title":"Month","titleX":453,"titlePadding":12}},"x2":{"field":"xr"},"y":{"field":"y","type":"quantitative","scale":{"domain":[-0.22,8.65],"nice":false,"zero":false},"axis":{"values":[0,1,2,3,4,5,6],"labels":false,"ticks":false,"gridWidth":{"condition":{"test":"datum.value % 2 == 1","value":2.2},"value":3},"domain":false,"title":null}},"detail":{"field":"m","type":"nominal"}}},
    {"mark":{"type":"line","interpolate":"monotone","color":"#000000","strokeWidth":3.5},"encoding":{"x":{"field":"m","type":"quantitative"},"y":{"field":"mn","type":"quantitative"}}},
    {"transform":[{"fold":["lo","hi"],"as":["k","v"]}],"mark":{"type":"line","interpolate":"monotone","color":"#000000","strokeWidth":4,"strokeDash":[31,13]},"encoding":{"x":{"field":"m","type":"quantitative"},"y":{"field":"v","type":"quantitative"},"detail":{"field":"k","type":"nominal"}}},
    {"transform":[{"filter":"datum.m == 1"}],"mark":{"type":"rect","fill":"#d9d9d9","stroke":"#333333","strokeWidth":2},"encoding":{"x":{"datum":0.4,"type":"quantitative"},"x2":{"datum":12.6},"y":{"datum":7.05,"type":"quantitative"},"y2":{"datum":8.65}}},
    {"transform":[{"filter":"datum.m == 1"}],"mark":{"type":"text","fontSize":29,"color":"#1a1a1a"},"encoding":{"text":{"field":"t","type":"nominal"},"x":{"datum":6.5,"type":"quantitative"},"y":{"datum":7.85,"type":"quantitative"}}}
   ]},
   {"width":445,"height":343,"data":{"name":"mon"},"transform":[{"filter":"datum.p == 11"}],"layer":[
    {"transform":[{"flatten":["ys","ws"],"as":["y","w"]},{"calculate":"datum.m - datum.w","as":"xl"},{"calculate":"datum.m + datum.w","as":"xr"}],"mark":{"type":"area","orient":"horizontal","interpolate":"monotone","fill":"#ffffff","stroke":"#b3b3b3","strokeWidth":3},"encoding":{"x":{"field":"xl","type":"quantitative","stack":null,"scale":{"domain":[0.4,12.6],"nice":false,"zero":false},"axis":{"values":[1,2,3,4,5,6,7,8,9,10,11,12],"labelExpr":"['J','F','M','A','M','J','J','A','S','O','N','D'][datum.value - 1]","gridWidth":3,"title":null}},"x2":{"field":"xr"},"y":{"field":"y","type":"quantitative","scale":{"domain":[-0.22,8.65],"nice":false,"zero":false},"axis":{"values":[0,1,2,3,4,5,6],"labels":false,"ticks":false,"gridWidth":{"condition":{"test":"datum.value % 2 == 1","value":2.2},"value":3},"domain":false,"title":null}},"detail":{"field":"m","type":"nominal"}}},
    {"mark":{"type":"line","interpolate":"monotone","color":"#000000","strokeWidth":3.5},"encoding":{"x":{"field":"m","type":"quantitative"},"y":{"field":"mn","type":"quantitative"}}},
    {"transform":[{"fold":["lo","hi"],"as":["k","v"]}],"mark":{"type":"line","interpolate":"monotone","color":"#000000","strokeWidth":4,"strokeDash":[31,13]},"encoding":{"x":{"field":"m","type":"quantitative"},"y":{"field":"v","type":"quantitative"},"detail":{"field":"k","type":"nominal"}}},
    {"transform":[{"filter":"datum.m == 1"}],"mark":{"type":"rect","fill":"#d9d9d9","stroke":"#333333","strokeWidth":2},"encoding":{"x":{"datum":0.4,"type":"quantitative"},"x2":{"datum":12.6},"y":{"datum":7.05,"type":"quantitative"},"y2":{"datum":8.65}}},
    {"transform":[{"filter":"datum.m == 1"}],"mark":{"type":"text","fontSize":29,"color":"#1a1a1a"},"encoding":{"text":{"field":"t","type":"nominal"},"x":{"datum":6.5,"type":"quantitative"},"y":{"datum":7.85,"type":"quantitative"}}}
   ]},
   {"width":445,"height":343,"data":{"name":"mon"},"transform":[{"filter":"datum.p == 12"}],"layer":[
    {"transform":[{"flatten":["ys","ws"],"as":["y","w"]},{"calculate":"datum.m - datum.w","as":"xl"},{"calculate":"datum.m + datum.w","as":"xr"}],"mark":{"type":"area","orient":"horizontal","interpolate":"monotone","fill":"#ffffff","stroke":"#b3b3b3","strokeWidth":3},"encoding":{"x":{"field":"xl","type":"quantitative","stack":null,"scale":{"domain":[0.4,12.6],"nice":false,"zero":false},"axis":{"values":[1,2,3,4,5,6,7,8,9,10,11,12],"labelExpr":"['J','F','M','A','M','J','J','A','S','O','N','D'][datum.value - 1]","gridWidth":3,"title":null}},"x2":{"field":"xr"},"y":{"field":"y","type":"quantitative","scale":{"domain":[-0.22,8.65],"nice":false,"zero":false},"axis":{"values":[0,1,2,3,4,5,6],"labels":false,"ticks":false,"gridWidth":{"condition":{"test":"datum.value % 2 == 1","value":2.2},"value":3},"domain":false,"title":null}},"detail":{"field":"m","type":"nominal"}}},
    {"mark":{"type":"line","interpolate":"monotone","color":"#000000","strokeWidth":3.5},"encoding":{"x":{"field":"m","type":"quantitative"},"y":{"field":"mn","type":"quantitative"}}},
    {"transform":[{"fold":["lo","hi"],"as":["k","v"]}],"mark":{"type":"line","interpolate":"monotone","color":"#000000","strokeWidth":4,"strokeDash":[31,13]},"encoding":{"x":{"field":"m","type":"quantitative"},"y":{"field":"v","type":"quantitative"},"detail":{"field":"k","type":"nominal"}}},
    {"transform":[{"filter":"datum.m == 1"}],"mark":{"type":"rect","fill":"#d9d9d9","stroke":"#333333","strokeWidth":2},"encoding":{"x":{"datum":0.4,"type":"quantitative"},"x2":{"datum":12.6},"y":{"datum":7.05,"type":"quantitative"},"y2":{"datum":8.65}}},
    {"transform":[{"filter":"datum.m == 1"}],"mark":{"type":"text","fontSize":29,"color":"#1a1a1a"},"encoding":{"text":{"field":"t","type":"nominal"},"x":{"datum":6.5,"type":"quantitative"},"y":{"datum":7.85,"type":"quantitative"}}}
   ]}
  ]
 }
]
}
